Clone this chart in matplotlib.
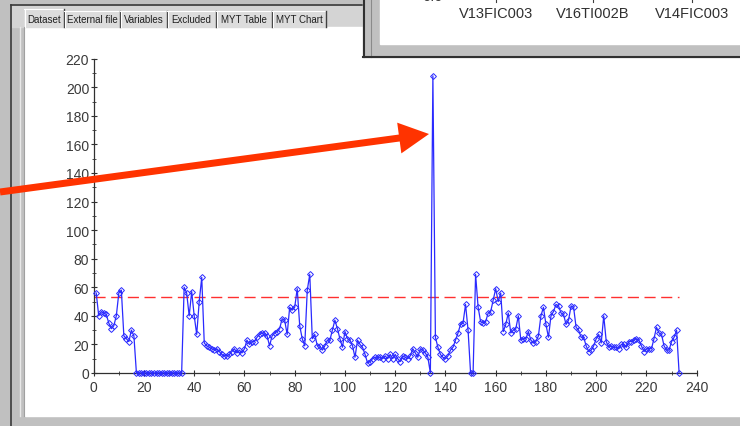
import numpy as np
import matplotlib.pyplot as plt
from matplotlib.patches import Rectangle, FancyArrow

plt.rcParams['font.family'] = ['Liberation Sans', 'DejaVu Sans']

# sample values, one per observation (index starts at 1)
values = [
    56, 40, 43, 42, 41, 35, 31, 33, 40, 56, 58, 26, 24, 22, 30, 26,
    0, 0, 0, 0, 0, 0, 0, 0, 0, 0, 0, 0, 0, 0, 0, 0, 0, 0, 0,
    60, 56, 40, 57, 40, 27, 50, 67,
    21, 19, 18, 17, 16, 17, 15, 13, 12, 12, 13, 15, 17, 14, 16, 14, 17,
    23, 20, 22, 22, 25, 27, 28, 28, 26, 19, 26, 28, 29, 31, 38, 37, 27, 46, 44, 46,
    59, 33, 24, 19, 58, 69, 24, 27, 19, 19, 16, 19, 23, 23, 30, 37, 31, 24, 18,
    29, 24, 23, 19, 11, 23, 20, 18, 13, 7, 8, 10, 11, 11, 11, 10, 12, 10, 13, 10,
    13, 10, 8, 12, 11, 10, 12, 17, 14, 11, 17, 16, 14, 11, 0,
    208, 25, 18, 13, 11, 10, 12, 16, 18, 23, 28, 34, 35, 48, 30, 0, 0, 69,
    46, 36, 35, 36, 42, 43, 51, 59, 50, 56, 29, 34, 42, 28, 30, 31, 40, 23, 24, 24,
    29, 23, 21, 22, 26, 40, 46, 34, 25, 40, 43, 48, 47, 42, 41, 34, 37, 47, 46, 32,
    30, 25, 25, 19, 15, 16, 19, 24, 27, 21, 40, 22, 18, 19, 18, 18, 17, 20, 20, 18,
    22, 22, 23, 24, 23, 19, 15, 17, 17, 17, 24, 32, 28, 27, 19, 16, 16, 22, 25, 30, 0,
]
limit_value = 53

tab_labels = ["Dataset", "External file", "Variables", "Excluded", "MYT Table", "MYT Chart"]
tab_edges = [24, 64, 120, 167, 216, 272, 326]
var_labels = ["V13FIC003", "V16TI002B", "V14FIC003"]
var_centers = [496, 593, 692]

W, H = 740, 427
fig = plt.figure(figsize=(W / 100, H / 100), dpi=100)

# window chrome drawn in pixel coordinates
bg = fig.add_axes([0, 0, 1, 1], zorder=0)
bg.set_xlim(0, W)
bg.set_ylim(H, 0)
bg.axis('off')

bg.add_patch(Rectangle((0, 0), W, H, color='#c0c0c0'))
bg.add_patch(Rectangle((12, 7), 350, 21, color='#d4d4d4'))
bg.add_patch(Rectangle((25, 28), W - 25, 389, color='white'))
bg.plot([11, 11], [6, H], color='#3a3a3a', lw=1.2)
bg.plot([11, 362], [6, 6], color='#3a3a3a', lw=1.2)
bg.plot([19.5, 19.5], [28, 417], color='#e8e8e8', lw=1)
bg.plot([23.5, 23.5], [28, 417], color='#a0a0a0', lw=0.8)

for i, label in enumerate(tab_labels):
    x0, x1 = tab_edges[i], tab_edges[i + 1]
    top = 10 if i == 0 else 12
    bg.add_patch(Rectangle((x0, top), x1 - x0, 28 - top, color='#dcdcdc'))
    bg.plot([x0 + 0.5, x0 + 0.5], [top, 28], color='white', lw=0.8)
    bg.plot([x0, x1], [top, top], color='white', lw=0.8)
    bg.plot([x1 - 0.5, x1 - 0.5], [top, 28], color='#404040', lw=1)
    bg.text((x0 + x1) / 2, 20, label, fontsize=7, color='#202020',
            ha='center', va='center')

# the chart itself
ax = fig.add_axes([93.7 / W, 53 / H, 603 / W, 314.3 / H], zorder=1)
ax.patch.set_alpha(0)
x = np.arange(1, len(values) + 1)
ax.plot(x, values, color='#2a2aff', lw=0.9, marker='D', markersize=3,
        markerfacecolor='none', markeredgewidth=0.7, clip_on=False, zorder=3)
line = ax.plot([0, len(values)], [limit_value, limit_value], color='#ff3030',
               lw=1, zorder=2)[0]
line.set_dashes([8, 4])

ax.set_xlim(0, 240)
ax.set_ylim(0, 220)
ax.set_xticks(np.arange(0, 241, 20))
ax.set_xticks(np.arange(0, 241, 10), minor=True)
ax.set_yticks(np.arange(0, 221, 20))
ax.set_yticks(np.arange(0, 221, 10), minor=True)
for side in ['top', 'right']:
    ax.spines[side].set_visible(False)
for side in ['left', 'bottom']:
    ax.spines[side].set_color('#303030')
    ax.spines[side].set_linewidth(0.9)
ax.tick_params(which='major', direction='inout', length=4.5, width=0.8,
               color='#303030', labelsize=10, labelcolor='#3a3a3a')
ax.tick_params(which='minor', direction='inout', length=3.5, width=0.7,
               color='#505050')
ax.tick_params(axis='x', pad=2.5)
ax.tick_params(axis='y', pad=1)

# overlapping window and arrow on top
fg = fig.add_axes([0, 0, 1, 1], zorder=2)
fg.set_xlim(0, W)
fg.set_ylim(H, 0)
fg.axis('off')
fg.patch.set_alpha(0)

fg.add_patch(Rectangle((363, 0), W - 363, 58, color='#c0c0c0'))
fg.add_patch(Rectangle((380, 0), W - 380, 45, color='white'))
fg.plot([363.5, 363.5], [0, 58], color='#303030', lw=1.5)
fg.plot([370.5, 370.5], [0, 58], color='#8a8a8a', lw=0.8)
fg.plot([363, W], [57.5, 57.5], color='#303030', lw=1.5)
fg.text(422, 4, "0.0", fontsize=10.5, color='#404040', ha='left', va='bottom')
for cx, label in zip(var_centers, var_labels):
    fg.plot([cx, cx], [0, 2.5], color='#404040', lw=0.8)
    fg.text(cx, 13.5, label, fontsize=10.5, color='#303030',
            ha='center', va='center')

fg.add_patch(FancyArrow(0, 193, 429, -58, width=7, head_width=31,
                        head_length=30, length_includes_head=True,
                        color='#ff3300', lw=0))

fig.savefig('out.png', dpi=100)
